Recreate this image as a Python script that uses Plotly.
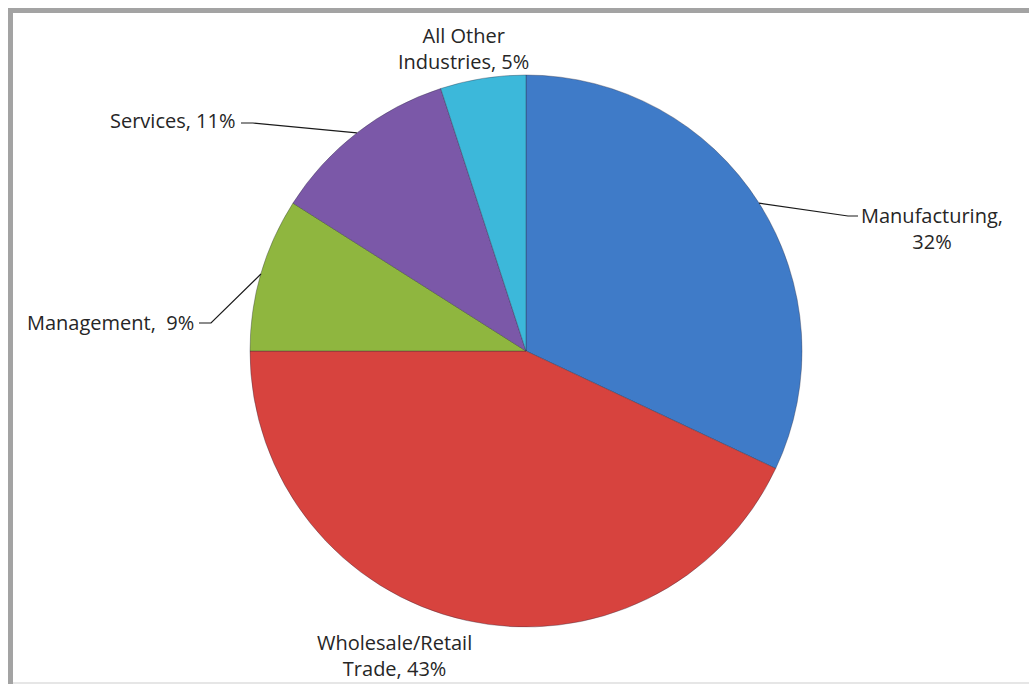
import math
import plotly.graph_objects as go

W, H = 1029, 684

# ---- data ----
categories = ["Manufacturing", "Wholesale/Retail Trade", "Management", "Services", "All Other Industries"]
values = [32, 43, 9, 11, 5]
label_texts = ["Manufacturing,<br>32%", "Wholesale/Retail<br>Trade, 43%", "Management,  9%",
               "Services, 11%", "All Other<br>Industries, 5%"]
colors = ["#3f7bc8", "#d7433e", "#8fb63f", "#7b58a8", "#3cb8da"]

# ---- layout geometry (pixels) ----
cx, cy, R = 526, 351, 276
# label text position (pixel), x-anchor, leader end point (or None)
label_pos = [(932, 229, "center", (858, 216)),
             (394, 655, "center", None),
             (196, 322, "right", (199, 323)),
             (238, 120, "right", (241, 123)),
             (463, 48, "center", None)]

def px(x):
    return x / W

def py(y):
    return 1 - y / H

fig = go.Figure()
fig.add_trace(go.Pie(
    labels=categories, values=values, sort=False, direction="clockwise", rotation=0,
    marker=dict(colors=colors, line=dict(color="rgba(40,40,60,0.35)", width=1)),
    textinfo="none", hoverinfo="label+percent", showlegend=False,
    domain=dict(x=[px(cx - R), px(cx + R)], y=[py(cy + R), py(cy - R)]),
))

shapes = []
annotations = []
total = sum(values)
cum = 0
font = dict(family="Open Sans, Noto Sans, sans-serif", size=20, color="#262626")
for i, v in enumerate(values):
    mid = (cum + v / 2) / total * 2 * math.pi
    cum += v
    ax_ = cx + R * math.sin(mid)
    ay_ = cy - R * math.cos(mid)
    tx, ty, anchor, leader = label_pos[i]
    annotations.append(dict(x=px(tx), y=py(ty), xref="paper", yref="paper", text=label_texts[i],
                            showarrow=False, xanchor=anchor, yanchor="middle", font=font,
                            align="center"))
    if leader:
        ex, ly = leader
        elbow = ex - 10 if ex > cx else ex + 12
        path = f"M {px(ax_)},{py(ay_)} L {px(elbow)},{py(ly)} L {px(ex)},{py(ly)}"
        shapes.append(dict(type="path", xref="paper", yref="paper", path=path,
                           line=dict(color="#1a1a1a", width=1.2)))

# gray frame (top and left) and faint bottom line
shapes += [
    dict(type="rect", xref="paper", yref="paper", x0=px(8), x1=1, y0=py(13), y1=py(8),
         fillcolor="#a3a3a3", line=dict(width=0), layer="below"),
    dict(type="rect", xref="paper", yref="paper", x0=px(8), x1=px(13), y0=0, y1=py(8),
         fillcolor="#a3a3a3", line=dict(width=0), layer="below"),
    dict(type="rect", xref="paper", yref="paper", x0=px(13), x1=1, y0=0, y1=py(682),
         fillcolor="#e6e6e6", line=dict(width=0), layer="below"),
]

fig.update_layout(width=W, height=H, margin=dict(l=0, r=0, t=0, b=0),
                  paper_bgcolor="white", plot_bgcolor="white",
                  shapes=shapes, annotations=annotations)
fig.write_html("out.html")
